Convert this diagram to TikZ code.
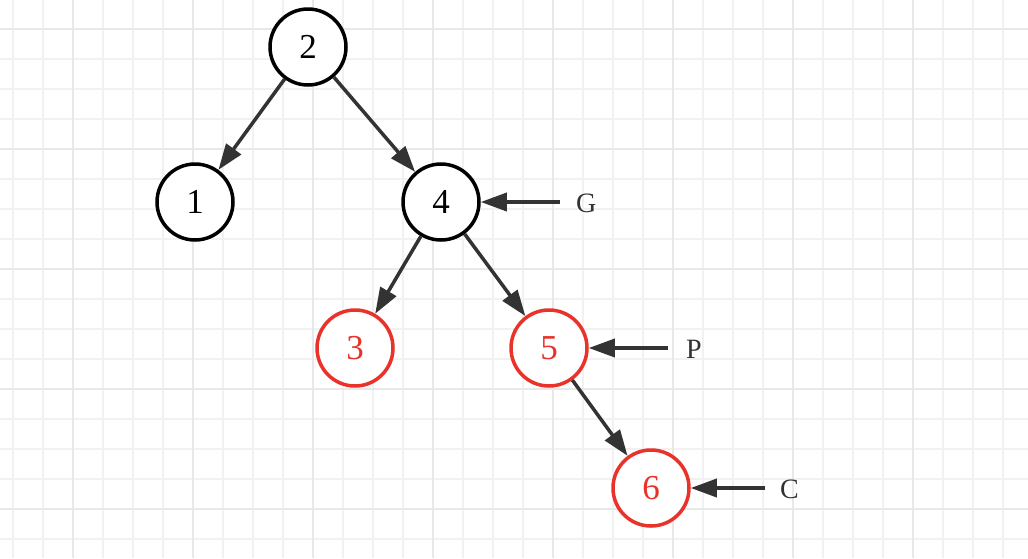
\documentclass[tikz,border=0pt]{standalone}
\usepackage{fontspec}
\setmainfont{Liberation Serif}
\usetikzlibrary{arrows.meta}
\definecolor{redc}{HTML}{E8322A}
\definecolor{darkc}{HTML}{333333}
\definecolor{gridminor}{HTML}{F1F1F1}
\definecolor{gridmajor}{HTML}{E8E8E8}
\tikzset{
  treenode/.style={circle, draw=black, line width=3.5pt, fill=white, minimum size=76pt, inner sep=0pt, font=\fontsize{35}{38}\selectfont},
  rednode/.style={treenode, draw=redc, text=redc},
  edge/.style={draw=darkc, line width=3.5pt, -{Triangle[length=26pt,width=18pt]}},
  ptr/.style={font=\fontsize{28}{30}\selectfont, text=darkc, inner sep=0pt}
}
\begin{document}
\begin{tikzpicture}[x=1pt,y=-1pt]
\useasboundingbox (0,0) rectangle (1028,558);
\fill[white] (0,0) rectangle (1028,558);
% grid
\foreach \x in {13,43,...,1028} \draw[gridminor, line width=2pt] (\x,0) -- (\x,558);
\foreach \y in {29,59,...,558} \draw[gridminor, line width=2pt] (0,\y) -- (1028,\y);
\foreach \x in {73,193,...,1028} \draw[gridmajor, line width=2.5pt] (\x,0) -- (\x,558);
\foreach \y in {29,149,...,558} \draw[gridmajor, line width=2.5pt] (0,\y) -- (1028,\y);
% nodes
\node[treenode] (n2) at (308,47) {2};
\node[treenode] (n1) at (195,202) {1};
\node[treenode] (n4) at (441,202) {4};
\node[rednode] (n3) at (355,348) {3};
\node[rednode] (n5) at (549,348) {5};
\node[rednode] (n6) at (651,488) {6};
% edges
\draw[edge] (n2) -- (n1);
\draw[edge] (n2) -- (n4);
\draw[edge] (n4) -- (n3);
\draw[edge] (n4) -- (n5);
\draw[edge] (n5) -- (n6);
% pointer labels
\node[ptr, anchor=west] (G) at (576,203) {G};
\node[ptr, anchor=west] (P) at (686,349) {P};
\node[ptr, anchor=west] (C) at (780,489) {C};
\coordinate (gs) at (560,202);
\coordinate (ps) at (668,348);
\coordinate (cs) at (765,488);
\draw[edge] (gs) -- (n4);
\draw[edge] (ps) -- (n5);
\draw[edge] (cs) -- (n6);
\end{tikzpicture}
\end{document}
